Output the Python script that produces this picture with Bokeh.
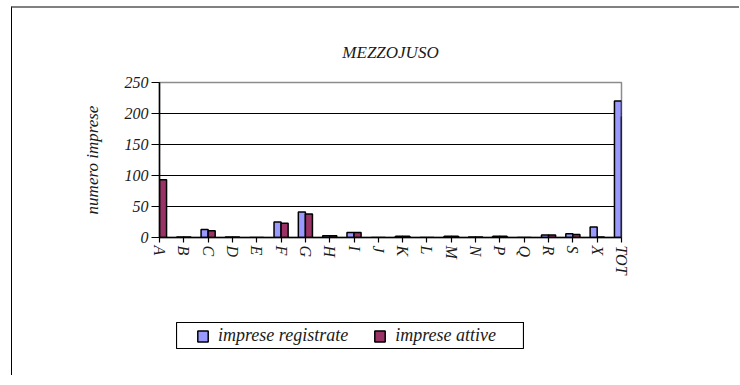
import numpy as np
from bokeh.plotting import figure
from bokeh.layouts import column, row
from bokeh.models import (Range1d, FixedTicker, Legend, LegendItem,
                          ColumnDataSource, Spacer, LinearAxis)
from bokeh.embed import file_html
from bokeh.resources import INLINE

categories = ["A", "B", "C", "D", "E", "F", "G", "H", "I", "J", "K", "L",
              "M", "N", "P", "Q", "R", "S", "X", "TOT"]
imprese_registrate = [94, 1, 13, 1, 0, 25, 41, 3, 8, 0, 2, 0, 2, 1, 2, 0, 4, 6, 17, 220]
imprese_attive = [93, 1, 11, 1, 0, 23, 38, 3, 8, 0, 2, 0, 2, 1, 2, 0, 4, 5, 1, 195]
y_ticks = [0, 50, 100, 150, 200, 250]
series_names = ["imprese registrate", "imprese attive"]
title_text = "MEZZOJUSO"
y_label = "numero imprese"

FONT = "Liberation Serif"
BLUE = "#9999FF"
RED = "#993366"
TXT = "#1a1a1a"

idx = np.arange(len(categories))
bw = 0.29
src_r = ColumnDataSource(dict(x=idx - bw / 2, top=imprese_registrate))
src_a = ColumnDataSource(dict(x=idx + bw / 2, top=imprese_attive))

# ---------------- main chart ----------------
p = figure(width=727, height=314, output_backend="svg", toolbar_location=None,
           x_range=Range1d(0, len(categories) - 1), y_range=Range1d(0, 250),
           min_border_left=147, min_border_right=118, min_border_top=74,
           min_border_bottom=85)

r1 = p.vbar(x="x", top="top", width=bw, source=src_r, fill_color=BLUE,
            line_color="black", line_width=1.5)
r2 = p.vbar(x="x", top="top", width=bw, source=src_a, fill_color=RED,
            line_color="black", line_width=1.5)

p.outline_line_color = "#8c8c8c"
p.outline_line_width = 1.5
p.xgrid.grid_line_color = None
p.ygrid.grid_line_color = "black"
p.ygrid.grid_line_width = 1
p.background_fill_color = "white"
p.border_fill_color = "white"

p.title.text = title_text
p.title.align = "center"
p.title.text_font = FONT
p.title.text_font_style = "italic"
p.title.text_font_size = "17px"
p.title.text_color = TXT
p.title.standoff = 41

p.yaxis.ticker = FixedTicker(ticks=y_ticks)
p.xaxis.ticker = FixedTicker(ticks=list(idx))
p.xaxis.major_label_overrides = {int(i): c for i, c in zip(idx, categories)}
p.xaxis.major_label_orientation = "vertical"

for ax in (p.xaxis[0], p.yaxis[0]):
    ax.axis_line_color = "black"
    ax.axis_line_width = 1.5
    ax.major_tick_line_color = "black"
    ax.major_tick_line_width = 1.2
    ax.minor_tick_line_color = None
    ax.major_tick_in = 0
    ax.major_label_text_font = FONT
    ax.major_label_text_font_style = "italic"
    ax.major_label_text_color = TXT

p.xaxis.major_tick_out = 5
p.xaxis.major_label_text_font_size = "16px"
p.xaxis.major_label_standoff = 3
p.yaxis.major_tick_out = 8
p.yaxis.major_label_text_font_size = "16px"
p.yaxis.major_label_standoff = 3

# outer axis carrying only the y title, bounded to the lower part of the range
label_axis = LinearAxis(ticker=FixedTicker(ticks=[]), bounds=(0, 177),
                        axis_line_color=None, major_tick_line_color=None,
                        minor_tick_line_color=None, major_tick_out=0,
                        major_tick_in=0, major_label_text_alpha=0,
                        axis_label=y_label, axis_label_text_font=FONT,
                        axis_label_text_font_style="italic",
                        axis_label_text_font_size="17px",
                        axis_label_text_color=TXT, axis_label_standoff=20)
p.add_layout(label_axis, "left")

# ---------------- legend box ----------------
lf = figure(width=348, height=27, output_backend="svg", toolbar_location=None,
            x_axis_location=None, y_axis_location=None,
            x_range=Range1d(-100, -99), y_range=Range1d(-100, -99),
            min_border=0, min_border_left=0, min_border_right=0,
            min_border_top=0, min_border_bottom=0)
lf.grid.grid_line_color = None
lf.outline_line_color = "black"
lf.outline_line_width = 1.2
lf.background_fill_color = "white"
lf.border_fill_color = "white"
lr1 = lf.vbar(x="x", top="top", width=bw, source=src_r, fill_color=BLUE,
              line_color="black", line_width=1.5)
lr2 = lf.vbar(x="x", top="top", width=bw, source=src_a, fill_color=RED,
              line_color="black", line_width=1.5)

legend = Legend(items=[LegendItem(label=series_names[0], renderers=[lr1]),
                       LegendItem(label=series_names[1], renderers=[lr2])],
                orientation="horizontal", location=(20, 3),
                label_text_font=FONT, label_text_font_style="italic",
                label_text_font_size="18px", label_text_color=TXT,
                glyph_width=13, glyph_height=14, label_standoff=9,
                spacing=25, padding=0, margin=0,
                border_line_color=None, background_fill_alpha=0)
lf.add_layout(legend, "center")

layout = column(p, row(Spacer(width=164, height=27), lf), Spacer(width=10, height=26))
layout.styles = {"margin-left": "11px", "margin-top": "6px",
                 "border-top": "2px solid #808080", "border-left": "1px solid #000000"}

open("out.html", "w").write(file_html(layout, INLINE))
